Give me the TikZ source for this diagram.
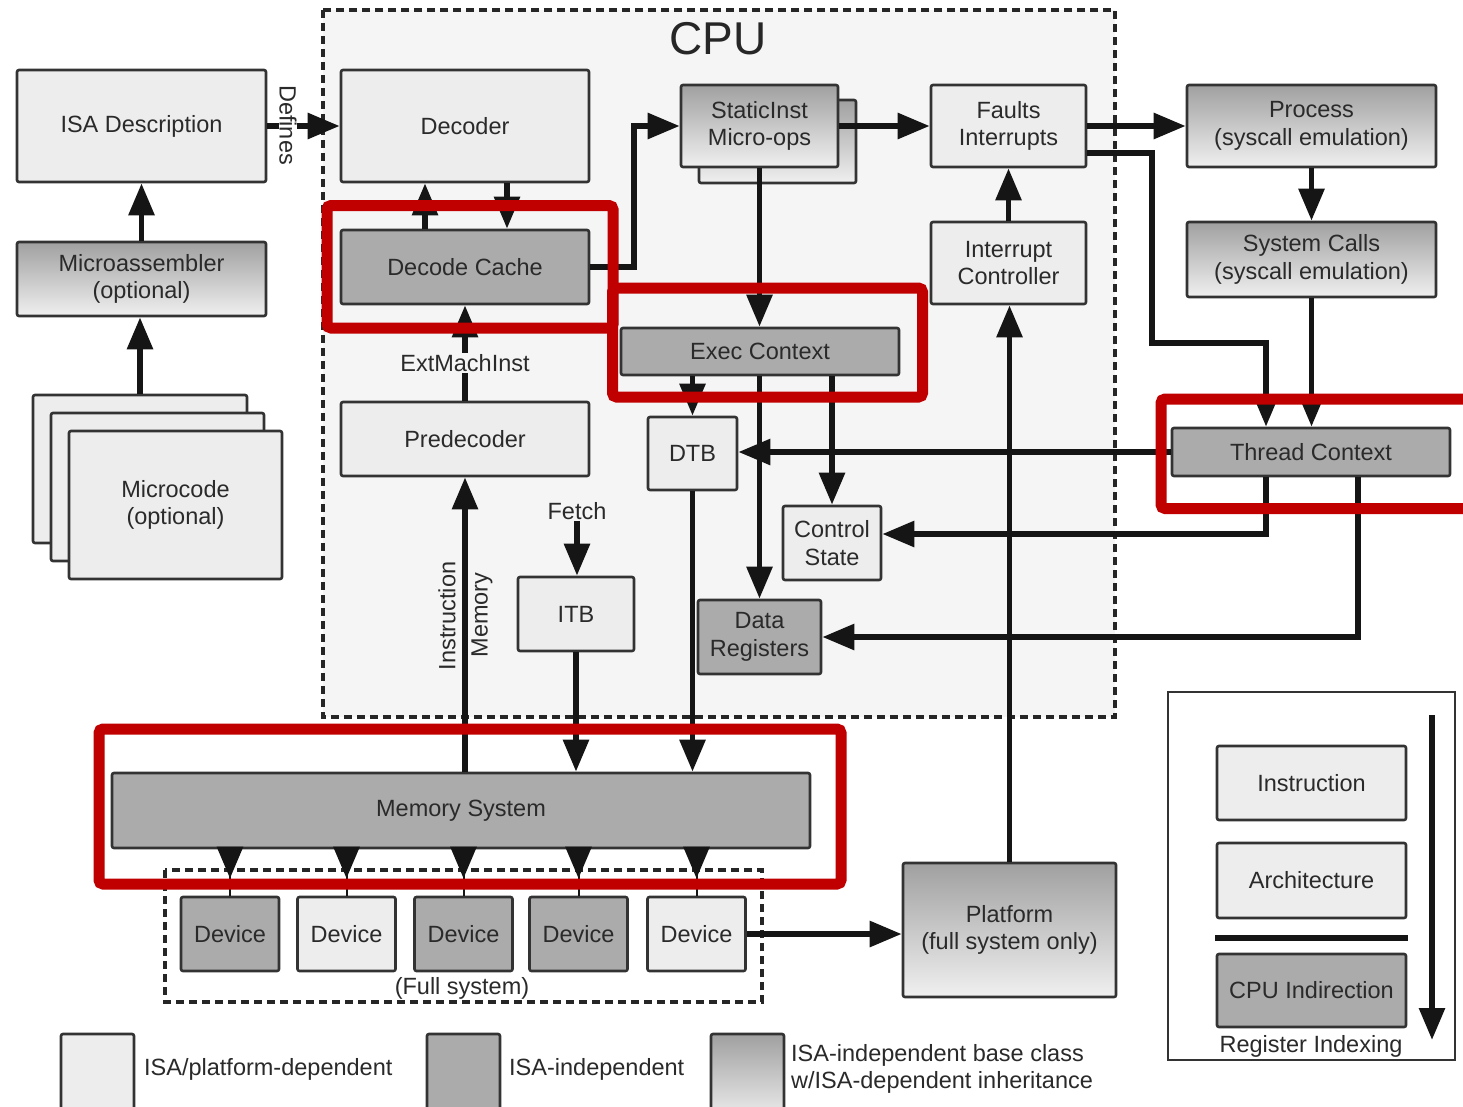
\documentclass[tikz,border=0pt]{standalone}
\usepackage{fontspec}
\setmainfont{Liberation Sans}
\usetikzlibrary{arrows.meta,calc}

\definecolor{txt}{HTML}{2A2A2A}
\definecolor{bord}{HTML}{333333}
\definecolor{lite}{HTML}{EDEDED}
\definecolor{dark}{HTML}{ABABAB}
\definecolor{gtop}{HTML}{A0A0A0}
\definecolor{gbot}{HTML}{F0F0F0}
\definecolor{cpubg}{HTML}{F5F5F5}
\definecolor{hl}{HTML}{C00000}
\definecolor{wirec}{HTML}{151515}

\newcommand{\bodyfont}{\fontsize{23.5}{27.5}\selectfont}
\newcommand{\bigfont}{\fontsize{46}{50}\selectfont}

\begin{document}
\begin{tikzpicture}[x=1pt,y=-1pt,
  box/.style={draw=bord, line width=2.6pt, rounded corners=2pt, inner sep=0pt,
              align=center, text=txt, font=\bodyfont},
  lt/.style={box, fill=lite},
  dk/.style={box, fill=dark},
  gr/.style={box, top color=gtop, bottom color=gbot},
  wire/.style={draw=wirec, line width=5.8pt},
  arr/.style={wire, -{Triangle[length=32pt,width=25pt]}},
  lbl/.style={text=txt, font=\bodyfont, inner sep=1pt},
  hlbox/.style={draw=hl, line width=11pt, rounded corners=4pt},
  dashbox/.style={draw=black!85, line width=3.3pt, dash pattern=on 8pt off 5pt},
]
\fill[white] (0,0) rectangle (1463,1106);
\useasboundingbox (0,0) rectangle (1463,1106);

% CPU region
\draw[dashbox, fill=cpubg] (323,10) rectangle (1115,717);
\node[text=black!85, font=\bigfont, inner sep=0pt] (cpu) at (718,39) {CPU};

% ISA side
\node[lt, minimum width=249pt, minimum height=112pt] (isa) at (141.5,126) {ISA Description};
\node[gr, minimum width=249pt, minimum height=74pt] (masm) at (141.5,279) {Microassembler\\(optional)};
\node[lt, minimum width=214pt, minimum height=148pt] (mc3) at (140,469) {};
\node[lt, minimum width=213pt, minimum height=148pt] (mc2) at (157.5,487) {};
\node[lt, minimum width=213pt, minimum height=148pt] (mc1) at (175.5,505) {Microcode\\(optional)};

% front end
\node[lt, minimum width=248pt, minimum height=112pt] (dec) at (465,126) {Decoder};
\node[dk, minimum width=248pt, minimum height=74pt] (dcache) at (465,267) {Decode Cache};
\node[lt, minimum width=248pt, minimum height=74pt] (pre) at (465,439) {Predecoder};
\node[lt, minimum width=116pt, minimum height=74pt] (itb) at (576,614) {ITB};

% execution
\node[gr, minimum width=157pt, minimum height=83pt] (sish) at (777.5,141.5) {};
\node[gr, minimum width=157pt, minimum height=82pt] (si) at (759.5,126) {StaticInst\\Micro-ops};
\node[lt, minimum width=155pt, minimum height=82pt] (faults) at (1008.5,126) {Faults\\Interrupts};
\node[lt, minimum width=155pt, minimum height=82pt] (intc) at (1008.5,263) {Interrupt\\Controller};
\node[dk, minimum width=278pt, minimum height=47pt] (exec) at (760,351.5) {Exec Context};
\node[lt, minimum width=89pt, minimum height=73pt] (dtb) at (692.5,453.5) {DTB};
\node[lt, minimum width=98pt, minimum height=74pt] (ctrl) at (832,543) {Control\\State};
\node[dk, minimum width=123pt, minimum height=74pt] (dreg) at (759.5,637) {Data\\Registers};

% OS side
\node[gr, minimum width=249pt, minimum height=82pt] (proc) at (1311.5,126) {Process\\(syscall emulation)};
\node[gr, minimum width=249pt, minimum height=75pt] (sysc) at (1311.5,259.5) {System Calls\\(syscall emulation)};
\node[dk, minimum width=278pt, minimum height=48pt] (tc) at (1311,452) {Thread Context};

% memory and devices
\node[dk, minimum width=698pt, minimum height=75pt] (mem) at (461,810.5) {Memory System};
\draw[dashbox] (165,870) rectangle (762,1002);
\node[dk, minimum width=98pt, minimum height=74pt] (d1) at (230,934) {Device};
\node[lt, minimum width=98pt, minimum height=74pt] (d2) at (346.5,934) {Device};
\node[dk, minimum width=98pt, minimum height=74pt] (d3) at (463.5,934) {Device};
\node[dk, minimum width=98pt, minimum height=74pt] (d4) at (578.5,934) {Device};
\node[lt, minimum width=98pt, minimum height=74pt] (d5) at (696.5,934) {Device};
\node[lbl] (fs) at (462,988) {(Full system)};
\node[gr, minimum width=213pt, minimum height=134pt] (plat) at (1009.5,930) {Platform\\(full system only)};

% connectors
\draw[arr] (mc3.north) -- (mc3.north |- masm.south);
\draw[arr] (masm.north) -- (isa.south);
\draw[arr] (isa.east) -- (dec.west);
\node[lbl, rotate=-90, fill=white, inner sep=0pt] (defines) at (288,125) {Defines};
\draw[arr] ([xshift=-40pt]dcache.north) -- ([xshift=-40pt]dec.south);
\draw[arr] ([xshift=42pt]dec.south) -- ([xshift=42pt]dcache.north);
\draw[arr] (pre.north) -- (dcache.south);
\node[lbl, fill=cpubg] (emi) at (465,363) {ExtMachInst};
\draw[arr] (pre.south |- mem.north) -- (pre.south);
\node[lbl, rotate=90] (instr) at (447,616) {Instruction};
\node[lbl, rotate=90] (memlbl) at (482,615) {Memory};
\node[lbl] (fetch) at (577,511) {Fetch};
\draw[arr] (fetch.south) -- (fetch.south |- itb.north);
\draw[arr] (itb.south) -- (itb.south |- mem.north);
\draw[arr] (dtb.south) -- (dtb.south |- mem.north);
\draw[arr] (dcache.east) -- ++(44,0) |- (si.west);
\draw[arr] (si.east) -- (faults.west);
\draw[arr] (faults.east) -- (proc.west);
\draw[arr] ([yshift=-27pt]faults.east) -- ++(65,0) -- ++(0,190) -| ([xshift=-45pt]tc.north);
\draw[arr] (proc.south) -- (sysc.north);
\draw[arr] (sysc.south) -- (sysc.south |- tc.north);
\draw[arr] (intc.north) -- (faults.south);
\draw[arr] (plat.north) -- (plat.north |- intc.south);
\draw[arr] (si.south) -- (si.south |- exec.north);
\draw[arr] (dtb.north |- exec.south) -- (dtb.north);
\draw[arr] (dreg.north |- exec.south) -- (dreg.north);
\draw[arr] (ctrl.north |- exec.south) -- (ctrl.north);
\draw[arr] (tc.west) -- (tc.west -| dtb.east);
\draw[arr] ([xshift=-45pt]tc.south) |- ([yshift=9pt]ctrl.east);
\draw[arr] ([xshift=47pt]tc.south) |- (dreg.east);
\foreach \d in {d1,d2,d3,d4,d5}{
  \draw[draw=wirec, line width=2pt] (\d.north |- mem.south) -- (\d.north);
  \draw[arr] (\d.north |- mem.south) -- ([yshift=17pt]\d.north);
}
\draw[arr] (d5.east) -- (d5.east -| plat.west);

% register indexing panel
\draw[draw=bord, line width=2pt, fill=white] (1168,692) rectangle (1455,1060);
\node[lt, minimum width=189pt, minimum height=74pt] (linst) at (1311.5,783) {Instruction};
\node[lt, minimum width=189pt, minimum height=75pt] (larch) at (1311.5,880.5) {Architecture};
\node[dk, minimum width=189pt, minimum height=73pt] (lcpu) at (1311.5,990.5) {CPU Indirection};
\draw[draw=wirec, line width=6pt] (1215,938) -- (1408,938);
\coordinate (rtop) at (1432,715);
\coordinate (rbot) at (1432,1040);
\draw[arr] (rtop) -- (rbot);
\node[lbl] (rix) at (1311,1046) {Register Indexing};

% colour key
\draw[draw=bord, line width=2.6pt, fill=lite, rounded corners=2pt] (61,1034) rectangle (134,1122);
\node[lbl, anchor=west] (k1) at (143,1069) {ISA/platform-dependent};
\draw[draw=bord, line width=2.6pt, fill=dark, rounded corners=2pt] (427,1034) rectangle (500,1122);
\node[lbl, anchor=west] (k2) at (508,1069) {ISA-independent};
\draw[draw=bord, line width=2.6pt, top color=gtop, bottom color=gbot, rounded corners=2pt] (711,1034) rectangle (784,1122);
\node[lbl, anchor=west, align=left] (k3) at (790,1069) {ISA-independent base class\\w/ISA-dependent inheritance};

% highlight frames
\draw[hlbox] (327,205.5) rectangle (613,328);
\draw[hlbox] (612.5,288) rectangle (922.5,397);
\draw[hlbox] (1480,399) -- (1161,399) -- (1161,508.5) -- (1480,508.5);
\draw[hlbox] (99,729) rectangle (841,884);
\end{tikzpicture}
\end{document}
